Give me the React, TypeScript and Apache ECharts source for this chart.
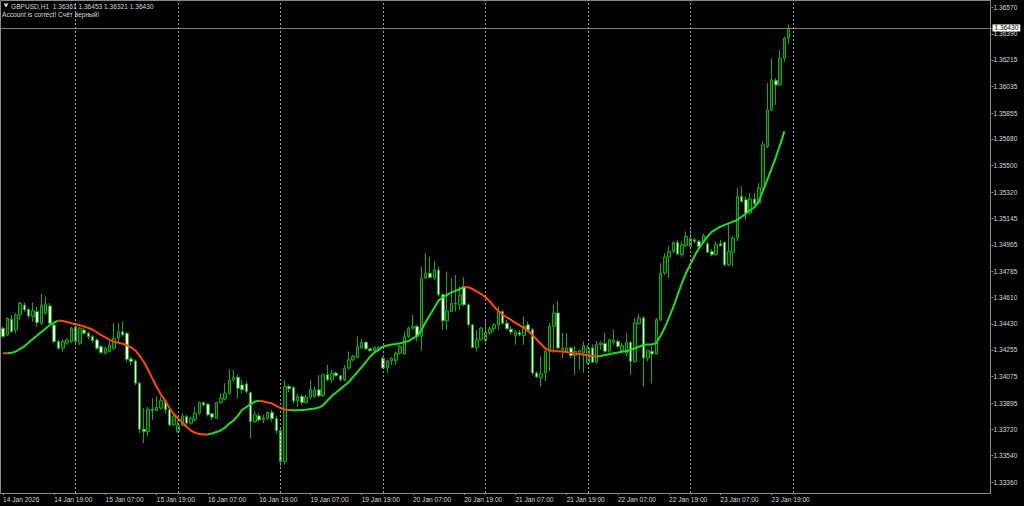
import React, { useEffect, useRef } from "react";
import * as echarts from "echarts";

const symbolLine = "GBPUSD,H1  1.36361 1.36453 1.36321 1.36430";
const accountLine = "Account is correct! Счёт верный!";
const firstLabel = "14 Jan 2026";
const days = ["14 Jan", "15 Jan", "16 Jan", "19 Jan", "20 Jan", "21 Jan", "22 Jan", "23 Jan"];
const firstHour = 7;
const futureSlots = 47;
const lastPrice = 1.3643;
const yTicks = [
  1.3336, 1.3354, 1.3372, 1.33895, 1.34075, 1.34255, 1.3443, 1.3461, 1.34785, 1.34965,
  1.35145, 1.3532, 1.355, 1.3568, 1.35855, 1.36035, 1.36215, 1.3639, 1.3657,
];

// [open, high, low, close]
const ohlc: number[][] = [
  [1.34401, 1.34412, 1.3434, 1.34345], [1.34356, 1.34475, 1.34349, 1.34468], [1.34462, 1.34491, 1.34371, 1.34378],
  [1.34389, 1.34502, 1.34367, 1.34491], [1.34491, 1.34581, 1.34457, 1.3457], [1.34558, 1.34574, 1.34513, 1.34525],
  [1.34529, 1.34536, 1.34468, 1.34484], [1.3448, 1.34574, 1.34446, 1.3452], [1.34513, 1.34547, 1.34412, 1.34439],
  [1.34435, 1.34633, 1.34423, 1.34558], [1.34502, 1.34615, 1.34491, 1.34565], [1.34551, 1.3457, 1.34423, 1.34435],
  [1.34423, 1.34435, 1.343, 1.34311], [1.34311, 1.34322, 1.34255, 1.34266], [1.34266, 1.34327, 1.34243, 1.34311],
  [1.343, 1.34333, 1.34288, 1.34322], [1.34311, 1.34412, 1.343, 1.34401], [1.34412, 1.34417, 1.343, 1.34311],
  [1.343, 1.34412, 1.34288, 1.34401], [1.34389, 1.34401, 1.34356, 1.34367], [1.34367, 1.34378, 1.34327, 1.34345],
  [1.34345, 1.34356, 1.343, 1.34318], [1.34322, 1.34333, 1.34255, 1.34266], [1.34277, 1.34288, 1.34227, 1.34237],
  [1.34232, 1.34277, 1.34221, 1.34266], [1.34243, 1.34311, 1.34237, 1.34288], [1.34266, 1.34435, 1.34255, 1.34333],
  [1.34333, 1.34435, 1.343, 1.34378], [1.34378, 1.34446, 1.34345, 1.34356], [1.34367, 1.34378, 1.34176, 1.34191],
  [1.34194, 1.34209, 1.34153, 1.34176], [1.3418, 1.34191, 1.34018, 1.3403], [1.3403, 1.34041, 1.33692, 1.33719],
  [1.33719, 1.33861, 1.33625, 1.33703], [1.33703, 1.33872, 1.3367, 1.33854], [1.33854, 1.33928, 1.33782, 1.33845],
  [1.33845, 1.3394, 1.33838, 1.33868], [1.33861, 1.3394, 1.3385, 1.33912], [1.33912, 1.33922, 1.33827, 1.3385],
  [1.3385, 1.33861, 1.33737, 1.33748], [1.33748, 1.33827, 1.33737, 1.33805], [1.33703, 1.33782, 1.33692, 1.33748],
  [1.33748, 1.33827, 1.33737, 1.33809], [1.33805, 1.33816, 1.33748, 1.3376], [1.3376, 1.33805, 1.33748, 1.33793],
  [1.33782, 1.33872, 1.33771, 1.33827], [1.33827, 1.33906, 1.33816, 1.33899], [1.33899, 1.33906, 1.33872, 1.33883],
  [1.33888, 1.33894, 1.33805, 1.33816], [1.33823, 1.33832, 1.33782, 1.338], [1.33793, 1.33906, 1.33786, 1.33899],
  [1.33899, 1.33962, 1.3389, 1.33928], [1.33922, 1.3403, 1.33913, 1.33962], [1.33962, 1.34124, 1.33951, 1.34052],
  [1.34052, 1.34119, 1.34041, 1.3407], [1.3407, 1.34086, 1.33928, 1.33996], [1.34018, 1.34052, 1.33962, 1.33985],
  [1.34025, 1.34041, 1.33962, 1.33973], [1.33967, 1.33973, 1.33658, 1.33771], [1.33771, 1.33838, 1.3376, 1.33816],
  [1.33809, 1.33827, 1.33771, 1.33782], [1.33782, 1.33816, 1.3376, 1.33793], [1.33793, 1.33838, 1.33782, 1.33832],
  [1.33832, 1.3385, 1.3377, 1.3379], [1.3379, 1.3381, 1.3369, 1.3371], [1.3371, 1.33725, 1.3347, 1.335],
  [1.335, 1.34053, 1.3348, 1.34008], [1.34008, 1.3402, 1.3397, 1.33992], [1.34001, 1.3401, 1.3389, 1.3391],
  [1.3391, 1.3396, 1.3387, 1.3394], [1.3394, 1.33955, 1.3388, 1.339], [1.339, 1.3395, 1.3389, 1.33935],
  [1.33935, 1.34053, 1.3392, 1.3399], [1.3394, 1.34008, 1.3393, 1.33985], [1.33985, 1.34087, 1.33935, 1.33945],
  [1.33945, 1.3409, 1.33935, 1.34087], [1.34087, 1.34154, 1.34042, 1.34053], [1.34053, 1.3412, 1.3403, 1.34098],
  [1.34098, 1.34109, 1.34076, 1.3408], [1.3408, 1.34087, 1.34042, 1.34053], [1.34053, 1.34154, 1.34042, 1.34132],
  [1.34132, 1.34244, 1.3412, 1.34188], [1.34188, 1.34222, 1.34177, 1.3421], [1.34204, 1.34345, 1.34199, 1.34278],
  [1.34267, 1.3433, 1.34262, 1.34305], [1.34307, 1.34312, 1.34255, 1.34262], [1.34262, 1.34267, 1.34244, 1.34249],
  [1.34249, 1.34278, 1.3424, 1.34271], [1.34255, 1.3428, 1.3425, 1.34273], [1.34199, 1.3421, 1.34127, 1.34132],
  [1.34132, 1.34188, 1.34098, 1.34181], [1.34181, 1.34205, 1.34154, 1.34199], [1.34181, 1.34244, 1.34154, 1.34233],
  [1.34233, 1.34289, 1.34222, 1.34278], [1.34226, 1.34379, 1.34222, 1.34345], [1.34345, 1.34413, 1.34334, 1.34402],
  [1.34402, 1.34492, 1.3439, 1.34413], [1.34413, 1.34424, 1.34312, 1.34345], [1.34345, 1.34818, 1.34249, 1.34739],
  [1.34739, 1.34908, 1.34735, 1.34773], [1.34773, 1.34885, 1.34739, 1.34744], [1.34739, 1.34852, 1.34728, 1.34795],
  [1.34795, 1.34818, 1.34615, 1.34627], [1.34627, 1.34638, 1.3439, 1.34451], [1.34451, 1.34784, 1.3439, 1.34519],
  [1.34514, 1.34739, 1.3451, 1.3457], [1.3457, 1.34762, 1.34514, 1.34564], [1.34559, 1.34683, 1.34525, 1.34627],
  [1.34683, 1.34746, 1.34548, 1.34559], [1.34559, 1.3457, 1.34413, 1.34424], [1.34424, 1.34429, 1.34267, 1.34271],
  [1.34271, 1.3439, 1.34244, 1.34323], [1.34323, 1.34408, 1.34316, 1.34402], [1.34316, 1.34458, 1.34307, 1.34375],
  [1.34368, 1.34413, 1.34357, 1.34397], [1.34397, 1.34435, 1.34379, 1.34424], [1.34424, 1.34548, 1.3439, 1.34514],
  [1.34514, 1.34525, 1.34424, 1.34435], [1.34435, 1.34458, 1.3439, 1.34397], [1.34395, 1.34413, 1.34357, 1.34375],
  [1.34352, 1.3439, 1.34289, 1.34375], [1.34372, 1.3439, 1.34345, 1.34357], [1.34352, 1.3448, 1.34289, 1.34413],
  [1.34424, 1.34446, 1.34379, 1.3439], [1.34392, 1.34403, 1.34088, 1.34099], [1.34099, 1.3411, 1.34065, 1.34072],
  [1.34065, 1.34212, 1.34009, 1.34094], [1.34099, 1.34257, 1.34043, 1.34245], [1.34245, 1.34437, 1.3411, 1.34414],
  [1.34414, 1.3456, 1.34234, 1.34504], [1.34504, 1.34583, 1.34257, 1.34268], [1.34257, 1.34369, 1.342, 1.34268],
  [1.34245, 1.34369, 1.34234, 1.34268], [1.34268, 1.34279, 1.342, 1.34216], [1.34216, 1.34279, 1.34088, 1.34245],
  [1.34239, 1.34257, 1.34122, 1.3425], [1.34234, 1.34313, 1.34099, 1.34284], [1.34167, 1.3429, 1.34155, 1.34268],
  [1.34268, 1.3429, 1.34167, 1.34171], [1.34171, 1.34313, 1.34162, 1.3429], [1.3429, 1.34313, 1.34257, 1.34301],
  [1.34297, 1.34369, 1.34234, 1.34245], [1.34245, 1.34329, 1.34234, 1.34324], [1.34306, 1.34392, 1.3429, 1.3432],
  [1.34313, 1.34324, 1.34268, 1.34279], [1.34252, 1.34301, 1.34234, 1.34284], [1.34234, 1.34369, 1.34212, 1.34306],
  [1.34306, 1.34313, 1.34088, 1.34178], [1.34178, 1.3447, 1.34167, 1.34437], [1.34432, 1.34499, 1.34425, 1.3447],
  [1.3447, 1.34481, 1.34009, 1.342], [1.342, 1.34257, 1.34178, 1.34252], [1.34245, 1.34279, 1.34032, 1.34227],
  [1.34227, 1.3447, 1.34223, 1.34459], [1.34459, 1.34841, 1.34448, 1.34774], [1.34774, 1.34909, 1.34763, 1.34882],
  [1.34882, 1.34954, 1.3474, 1.3492], [1.3492, 1.34988, 1.34909, 1.34981], [1.34981, 1.34999, 1.34898, 1.34902],
  [1.34898, 1.34988, 1.34882, 1.34965], [1.34959, 1.35055, 1.3495, 1.35022], [1.34954, 1.35066, 1.34932, 1.3501],
  [1.34999, 1.3501, 1.34977, 1.34988], [1.34988, 1.34999, 1.34932, 1.34954], [1.34981, 1.35039, 1.34972, 1.35026],
  [1.34972, 1.34988, 1.34909, 1.34914], [1.3492, 1.34936, 1.34887, 1.34898], [1.34898, 1.34988, 1.34891, 1.34965],
  [1.34972, 1.34999, 1.34954, 1.34959], [1.34981, 1.34988, 1.34819, 1.3483], [1.3483, 1.351, 1.34819, 1.3492],
  [1.34914, 1.35022, 1.34819, 1.3501], [1.3501, 1.35348, 1.34988, 1.35292], [1.35292, 1.35359, 1.35251, 1.35258],
  [1.35269, 1.35292, 1.35134, 1.35179], [1.35179, 1.35314, 1.35168, 1.35274], [1.35274, 1.35314, 1.35224, 1.35242],
  [1.35247, 1.35382, 1.35236, 1.35348], [1.35348, 1.35663, 1.35337, 1.3564], [1.35629, 1.36057, 1.35618, 1.35877],
  [1.35877, 1.36225, 1.35865, 1.36079], [1.36075, 1.3609, 1.3591, 1.36045], [1.36045, 1.36282, 1.36039, 1.36225],
  [1.36225, 1.36371, 1.36203, 1.3636], [1.36361, 1.36453, 1.36321, 1.3643],
];

const maValues = [
  1.34232, 1.34232, 1.34235, 1.34244, 1.34261, 1.34278, 1.34305, 1.34328, 1.34352, 1.34376,
  1.34399, 1.34423, 1.3444, 1.34453, 1.3445, 1.34443, 1.34435, 1.34428, 1.34421, 1.34413,
  1.34403, 1.34391, 1.34374, 1.34355, 1.34339, 1.34322, 1.34309, 1.34303, 1.34296, 1.34286,
  1.34271, 1.34251, 1.34214, 1.34173, 1.34119, 1.34061, 1.34004, 1.33953, 1.33909, 1.33862,
  1.33822, 1.33791, 1.33764, 1.33734, 1.3371, 1.33695, 1.33686, 1.33684, 1.33684, 1.3369,
  1.337, 1.3371, 1.3373, 1.33757, 1.33778, 1.33811, 1.33849, 1.33869, 1.33889, 1.33906,
  1.33911, 1.33906, 1.33899, 1.33893, 1.33876, 1.33862, 1.33852, 1.33849, 1.33847, 1.33847,
  1.33849, 1.33851, 1.33855, 1.33859, 1.33865, 1.33882, 1.33913, 1.33943, 1.33967, 1.3399,
  1.34014, 1.34038, 1.34072, 1.34105, 1.34139, 1.34173, 1.3421, 1.34237, 1.34257, 1.34276,
  1.34284, 1.34291, 1.34295, 1.343, 1.34306, 1.34315, 1.34332, 1.34349, 1.34389, 1.34443,
  1.34491, 1.34538, 1.34589, 1.34609, 1.34626, 1.34643, 1.34654, 1.34666, 1.34678, 1.34678,
  1.34666, 1.34649, 1.34632, 1.34612, 1.34582, 1.34548, 1.34518, 1.34494, 1.34474, 1.34457,
  1.34437, 1.3442, 1.34403, 1.34382, 1.34355, 1.34325, 1.34295, 1.34264, 1.34251, 1.34247,
  1.34246, 1.34244, 1.34241, 1.34235, 1.3423, 1.34227, 1.34222, 1.34218, 1.34214, 1.3421,
  1.34214, 1.3422, 1.34226, 1.34232, 1.34237, 1.34243, 1.34247, 1.34254, 1.34266, 1.34278,
  1.34288, 1.34291, 1.34292, 1.34301, 1.34349, 1.34406, 1.34474, 1.34545, 1.34626, 1.34707,
  1.34776, 1.34834, 1.34891, 1.34943, 1.34982, 1.3502, 1.35052, 1.3507, 1.35087, 1.35099,
  1.3511, 1.35121, 1.35133, 1.35154, 1.35176, 1.35198, 1.35219, 1.35258, 1.3533, 1.35403,
  1.35479, 1.35556, 1.35641, 1.35731,
];
// bar index ranges where the average rises (green) or falls (orange)
const risingSpans = [[1, 13], [48, 60], [67, 108], [139, 183]];
const fallingSpans = [[0, 1], [13, 48], [60, 67], [108, 139]];

const pad2 = (n: number) => (n < 10 ? "0" + n : "" + n);
const categories: string[] = [];
days.forEach((d, k) => {
  for (let h = k === 0 ? firstHour : 0; h < 24; h++) categories.push(`${d} ${pad2(h)}:00`);
});
const nBars = categories.length;
for (let j = 1; j <= futureSlots; j++) categories.push(`+${j}`);

const gridBars: number[] = [];
categories.forEach((c, i) => { if (i < nBars && c.endsWith(" 00:00")) gridBars.push(i); });
gridBars.push(nBars);

const inSpans = (i: number, spans: number[][]) => spans.some(([a, b]) => i >= a && i <= b);
const maRise = maValues.map((v, i) => (inSpans(i, risingSpans) ? v : null));
const maFall = maValues.map((v, i) => (inSpans(i, fallingSpans) ? v : null));

const FONT = "Liberation Sans, Arial, sans-serif";
const TXT = "#d6d6d6";
const FS = 6.6;

export default function App() {
  const ref = useRef<HTMLDivElement>(null);
  useEffect(() => {
    if (!ref.current) return;
    const chart = echarts.init(ref.current, null, { renderer: "svg" });
    const showLabel = (index: number, value: string) =>
      index < nBars && /(07|19):00$/.test(value);
    chart.setOption({
      animation: false,
      backgroundColor: "#000000",
      grid: { left: -1, right: 32.5, top: 1, bottom: 13 },
      xAxis: {
        type: "category",
        data: categories,
        boundaryGap: true,
        axisLine: { show: false },
        axisTick: {
          show: true,
          interval: showLabel,
          alignWithLabel: true,
          length: 2,
          lineStyle: { color: "#8a8a8a" },
        },
        axisLabel: {
          interval: showLabel,
          formatter: (v: string, i: number) => (i === 0 ? firstLabel : v),
          align: "left",
          color: TXT,
          fontSize: FS,
          fontFamily: FONT,
          margin: 3,
        },
        splitLine: { show: false },
      },
      yAxis: {
        type: "value",
        position: "right",
        min: 1.33288,
        max: 1.36612,
        axisLine: { show: false },
        splitLine: { show: false },
        axisTick: { show: true, customValues: yTicks, length: 2, lineStyle: { color: "#8a8a8a" } },
        axisLabel: {
          customValues: yTicks,
          formatter: (v: number) => v.toFixed(5),
          color: TXT,
          fontSize: FS,
          fontFamily: FONT,
          margin: 2,
        },
      },
      graphic: [
        {
          type: "rect",
          silent: true,
          z: 10,
          shape: { x: 0.5, y: 0.5, width: 990, height: 493 },
          style: { fill: "none", stroke: "#8a8a8a", lineWidth: 1 },
        },
        {
          type: "polygon",
          silent: true,
          z: 10,
          shape: { points: [[3.5, 3.5], [8.5, 3.5], [6, 7.5]] },
          style: { fill: TXT },
        },
        {
          type: "text",
          silent: true,
          z: 10,
          x: 11,
          y: 6,
          style: { text: symbolLine, fill: TXT, fontSize: FS, fontFamily: FONT, verticalAlign: "middle" },
        },
        {
          type: "text",
          silent: true,
          z: 10,
          x: 2,
          y: 14,
          style: { text: accountLine, fill: TXT, fontSize: FS, fontFamily: FONT, verticalAlign: "middle" },
        },
      ],
      series: [
        {
          type: "line",
          data: [],
          z: 1,
          silent: true,
          markLine: {
            silent: true,
            symbol: ["none", "none"],
            label: { show: false },
            lineStyle: { color: "#9a9a9a", width: 1, type: [2, 2] },
            data: gridBars.map((i) => ({ xAxis: i })),
          },
        },
        {
          type: "line",
          data: [],
          z: 4,
          silent: true,
          markLine: {
            silent: true,
            precision: 5,
            symbol: ["none", "none"],
            lineStyle: { color: "#74808a", width: 1, type: "solid" },
            label: {
              show: true,
              position: "end",
              distance: 1,
              formatter: lastPrice.toFixed(5),
              backgroundColor: "#ffffff",
              color: "#000000",
              fontSize: FS,
              fontFamily: FONT,
              padding: [0, 2, 0, 2],
              lineHeight: 7,
            },
            data: [{ yAxis: lastPrice }],
          },
        },
        {
          type: "candlestick",
          z: 2,
          barWidth: 3,
          data: ohlc.map(([o, h, l, c]) => [o, c, l, h]),
          itemStyle: {
            color: "#073a07",
            color0: "#f2fff2",
            borderColor: "#14a814",
            borderColor0: "#14a814",
            borderWidth: 1,
          },
        },
        {
          type: "line",
          z: 3,
          data: maRise,
          showSymbol: false,
          connectNulls: false,
          lineStyle: { color: "#1fdd1f", width: 2 },
          silent: true,
        },
        {
          type: "line",
          z: 3,
          data: maFall,
          showSymbol: false,
          connectNulls: false,
          lineStyle: { color: "#ff4800", width: 2 },
          silent: true,
        },
      ],
    });
    return () => chart.dispose();
  }, []);
  return (
    <div
      ref={ref}
      style={{ position: "fixed", left: 0, top: 0, width: 1024, height: 506, background: "#000" }}
    />
  );
}
